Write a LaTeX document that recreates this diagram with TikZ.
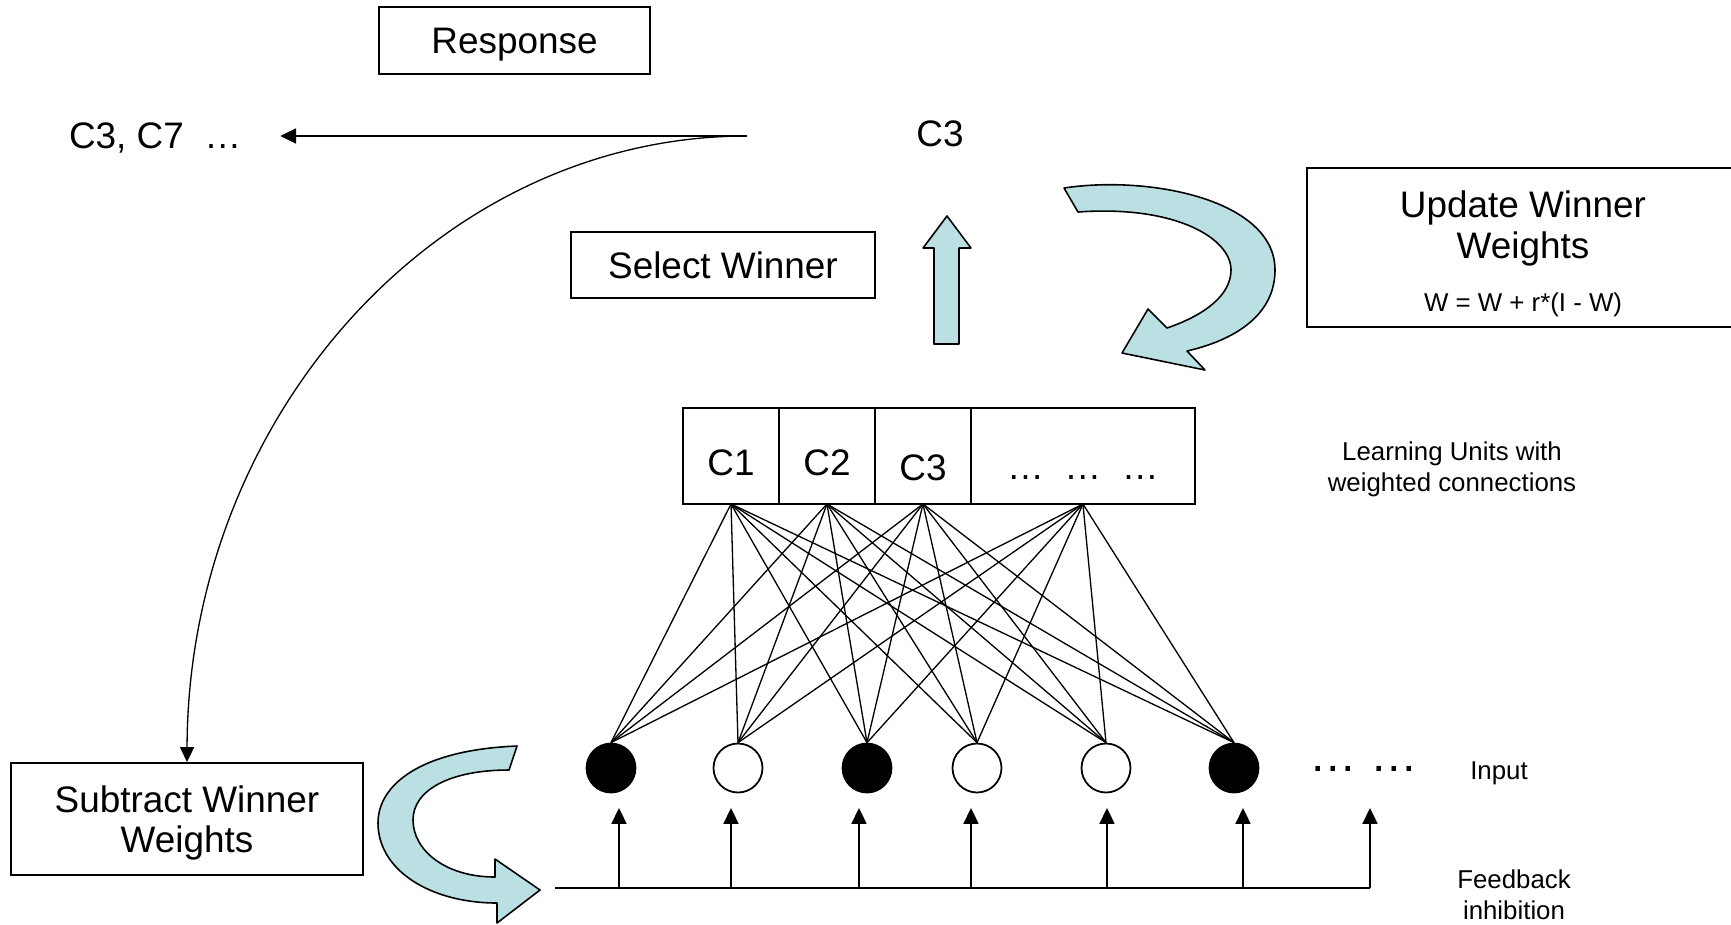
\documentclass[tikz,border=0pt]{standalone}
\usepackage{fontspec}
\setmainfont{Liberation Sans}
\usepackage{tikz}
\usetikzlibrary{arrows.meta,positioning,calc}
\definecolor{blockblue}{HTML}{BBE0E3}

\begin{document}
\begin{tikzpicture}[x=0.02cm,y=-0.02cm,
  big/.style={font=\fontsize{21}{23}\selectfont,inner sep=0pt,text depth=0pt,align=center},
  small/.style={font=\fontsize{14.7}{17.6}\selectfont,inner sep=0pt,text depth=0pt,align=center},
  box/.style={draw,line width=1.1pt,inner sep=0pt},
  unit/.style={box,outer sep=0pt,minimum height=1.92cm,minimum width=1.92cm},
  neuron/.style={circle,draw,line width=1pt,minimum size=0.98cm,inner sep=0pt},
  wire/.style={line width=0.75pt},
  tip/.style={-{Triangle[length=9pt,width=8.5pt]}},
  blockarrow/.style={fill=blockblue,draw,line width=0.9pt,line join=round}]

\useasboundingbox (0,0) rectangle (1731,924);

% response side
\node[box,big,minimum width=5.42cm,minimum height=1.34cm] (resp) at (514.5,40.5) {Response};
\node[big,inner xsep=22pt,anchor=west] (resplist) at (30,136) {C3, C7~ …};
\node[big] (winner) at (940,134) {C3};
\coordinate (split) at (747,136);
\draw[tip,line width=1.1pt] (split) -- (resplist);

\node[box,big,minimum width=6.08cm,minimum height=1.32cm] (select) at (723,265) {Select Winner};
\filldraw[blockarrow] (947,216) -- (971,248) -- (959,248) -- (959,344) -- (934,344) -- (934,248) -- (923,248) -- cycle;

% weight update
\node[box,minimum width=8.66cm,minimum height=3.18cm] (update) at (1523.5,247.5) {};
\node[big] (updtext) at (1523,224.5) {Update Winner\\Weights};
\node[small] (rule) at (1523,302) {W = W + r*(I - W)};
\filldraw[blockarrow] (1064,188) .. controls (1150,175) and (1275,200) .. (1275,270)
  .. controls (1275,315) and (1235,340) .. (1187,351) -- (1205,370) -- (1122,353)
  -- (1148,309) -- (1167,328) .. controls (1205,315) and (1231,295) .. (1231,270)
  .. controls (1231,238) and (1175,205) .. (1078,212) -- cycle;

% learning units
\node[unit] (c1) at (731,456) {};
\node[unit,right=0pt of c1] (c2) {};
\node[unit,right=0pt of c2] (c3) {};
\node[unit,minimum width=4.48cm,right=0pt of c3] (cdots) {};
\node[big] at ([yshift=-4pt]c1.center) {C1};
\node[big] at ([yshift=-4pt]c2.center) {C2};
\node[big] at ([yshift=-6.8pt]c3.center) {C3};
\node[big,anchor=base] at ([yshift=-13.6pt]cdots.center) {…~ …~ …};
\node[small] (units) at (1452,466.5) {Learning Units with\\weighted connections};

% input layer
\foreach \x/\f [count=\i] in {611/black,738/white,867/black,977/white,1106/white,1234/black}
  \node[neuron,fill=\f] (in\i) at (\x,768) {};
\foreach \u in {c1,c2,c3,cdots}
  \foreach \i in {1,...,6}
    \draw[wire] (\u.south) -- (in\i.north);
\node[big,font=\fontsize{27}{30}\selectfont,anchor=base] (more) at (1364,771) {… …};
\node[small] (input) at (1499,771) {Input};

% feedback inhibition
\coordinate (fbL) at (555,888);
\coordinate (fbR) at (1370,888);
\draw[line width=1.5pt] (fbL) -- (fbR);
\foreach \x in {619,731,859,971,1107,1243,1370}
  \draw[tip,line width=1.1pt] (\x,888) -- (\x,808);
\node[small] (feedback) at (1514,895) {Feedback\\inhibition};

% subtract
\node[box,big,minimum width=7.04cm,minimum height=2.24cm] (sub) at (187,819) {Subtract Winner\\Weights};
\draw[wire,-{Triangle[length=8.5pt,width=8pt]}] (split) .. controls (438,136) and (188,417) .. (sub.north);
\filldraw[blockarrow] (517,746) .. controls (420,750) and (378,785) .. (378,823)
  .. controls (378,870) and (430,903) .. (497,903) -- (497,923) -- (540,890)
  -- (495,859) -- (495,877) .. controls (445,877) and (413,850) .. (413,820)
  .. controls (413,790) and (450,770) .. (509,770) -- cycle;
\end{tikzpicture}
\end{document}
